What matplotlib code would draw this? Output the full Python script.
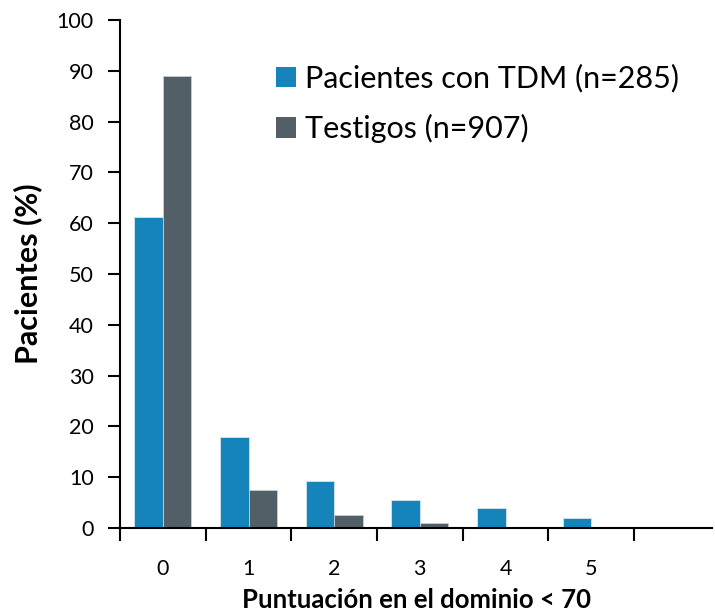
import matplotlib
matplotlib.use("Agg")
import matplotlib.pyplot as plt
import numpy as np
from matplotlib.patches import Patch

categories = ["0", "1", "2", "3", "4", "5"]
pacientes = [61.3, 18.0, 9.2, 5.5, 3.85, 2.05]
testigos = [89.0, 7.4, 2.5, 0.9, 0.0, 0.0]
series_labels = ["Pacientes con TDM (n=285)", "Testigos (n=907)"]
yticks = [0, 10, 20, 30, 40, 50, 60, 70, 80, 90, 100]

blue = "#1484BA"
gray = "#535F67"

plt.rcParams['font.family'] = ['Lato', 'DejaVu Sans']

fig = plt.figure(figsize=(7.15, 6.16), dpi=100)
ax = fig.add_axes([120/715, 88/616, (712-120)/715, (528-20)/616])

x = np.arange(len(categories))
w = 1/3
ax.bar(x - w/2, pacientes, width=w, color=blue, edgecolor="#d8e6ee", linewidth=0.6)
ax.bar(x + w/2, testigos, width=w, color=gray, edgecolor="#c8cdd0", linewidth=0.6)

ax.set_xlim(-0.5, 6.41)
ax.set_ylim(0, 100)
ax.set_yticks(yticks)
ax.set_yticklabels([str(v) for v in yticks], fontsize=15.5)
ax.set_xticks(np.arange(-0.5, 6.0, 1.0))
ax.set_xticklabels([])
ax.set_xticks(x, minor=True)
ax.set_xticklabels(categories, minor=True, fontsize=15.5)
ax.tick_params(axis='x', which='minor', length=0, pad=22)
ax.tick_params(axis='x', which='major', direction='out', length=9, width=1.5, color='black')
ax.tick_params(axis='y', direction='out', length=9, width=1.5, pad=10)

for s in ['top', 'right']:
    ax.spines[s].set_visible(False)
for s in ['left', 'bottom']:
    ax.spines[s].set_linewidth(1.5)

ax.set_ylabel("Pacientes (%)", fontsize=22, fontweight='bold', labelpad=10)
ax.set_xlabel("Puntuación en el dominio < 70", fontsize=18.5, fontweight='bold', labelpad=7)

handles = [Patch(facecolor=blue), Patch(facecolor=gray)]
ax.legend(handles, series_labels, loc='upper left', bbox_to_anchor=((264-120)/592, 1 - (52-20)/508),
          frameon=False, fontsize=22, handlelength=0.65, handleheight=0.65, handletextpad=0.3,
          labelspacing=0.7, borderaxespad=0)

fig.savefig("out.png", dpi=100)
